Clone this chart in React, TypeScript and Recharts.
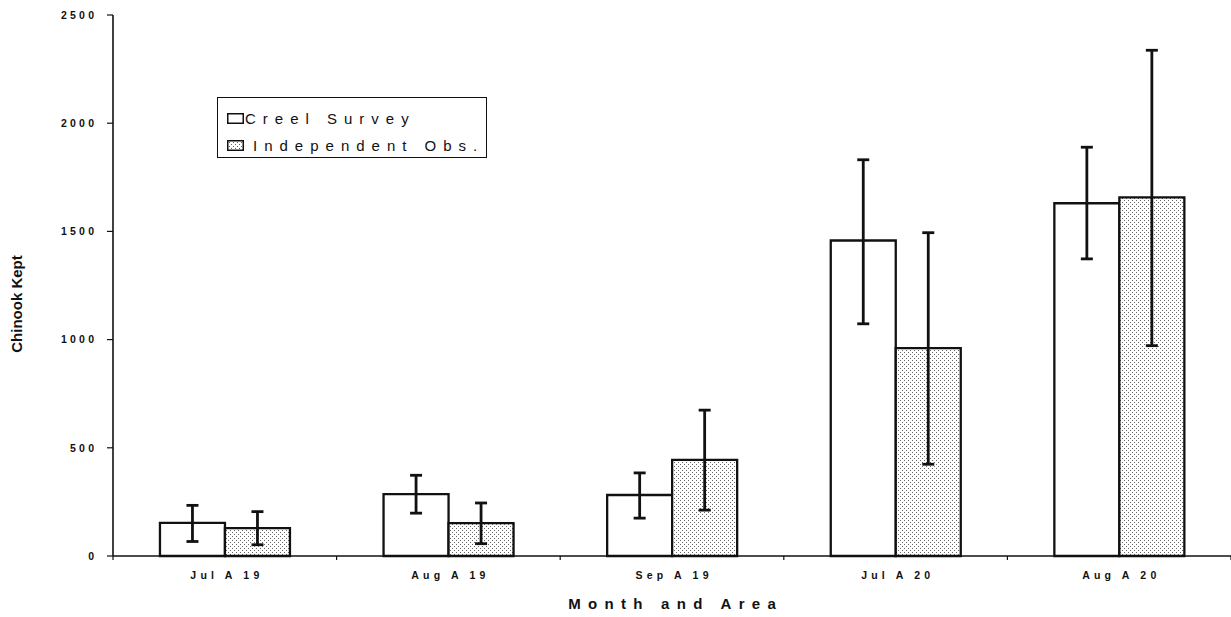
import React from 'react';
import { BarChart, Bar, XAxis, YAxis, ErrorBar, Legend, Label } from 'recharts';

// Chinook kept per month and area, creel survey vs independent observers
const categories = ['Jul A 19', 'Aug A 19', 'Sep A 19', 'Jul A 20', 'Aug A 20'];
const creelKept = [153, 286, 282, 1458, 1630];
const creelLow = [67, 198, 175, 1073, 1373];
const creelHigh = [234, 373, 384, 1831, 1889];
const indepKept = [129, 152, 444, 961, 1657];
const indepLow = [52, 57, 212, 424, 972];
const indepHigh = [205, 245, 674, 1494, 2337];
const yTicks = [0, 500, 1000, 1500, 2000, 2500];

const seriesNames = ['Creel Survey', 'Independent Obs.'];

const rows = categories.map((category, i) => ({
  category,
  creel: creelKept[i],
  creelErr: [creelKept[i] - creelLow[i], creelHigh[i] - creelKept[i]],
  indep: indepKept[i],
  indepErr: [indepKept[i] - indepLow[i], indepHigh[i] - indepKept[i]],
}));

const FONT = '"Liberation Sans", Arial, Helvetica, sans-serif';
const INK = '#111';

const XTick = (props: any) => {
  const { x, y, payload, index, visibleTicksCount, width } = props;
  const half = payload && payload.offset ? payload.offset : width / visibleTicksCount / 2;
  const spacing = 4.2;
  return (
    <g>
      <line x1={x - half} y1={y} x2={x - half} y2={y + 4} stroke={INK} strokeWidth={1.2} />
      {index === visibleTicksCount - 1 && (
        <line x1={x + half} y1={y} x2={x + half} y2={y + 4} stroke={INK} strokeWidth={1.2} />
      )}
      <text
        x={x + spacing / 2}
        y={y + 23}
        textAnchor="middle"
        fontFamily={FONT}
        fontWeight="bold"
        fontSize={10.5}
        fill={INK}
        style={{ letterSpacing: `${spacing}px` }}
      >
        {payload.value}
      </text>
    </g>
  );
};

const YTick = (props: any) => {
  const { x, y, payload } = props;
  const spacing = 3.2;
  return (
    <text
      x={x - 13 + spacing}
      y={y}
      dy="0.36em"
      textAnchor="end"
      fontFamily={FONT}
      fontWeight="bold"
      fontSize={10.5}
      fill={INK}
      style={{ letterSpacing: `${spacing}px` }}
    >
      {payload.value}
    </text>
  );
};

const LegendBox = (props: any) => {
  const { payload } = props;
  return (
    <div
      style={{
        boxSizing: 'border-box',
        width: 270,
        height: 61,
        border: '1.3px solid #111',
        background: '#fff',
        padding: '7px 0 0 9px',
        fontFamily: FONT,
        fontSize: 15,
        letterSpacing: '7px',
        color: INK,
        lineHeight: '27px',
      }}
    >
      {(payload || []).map((item: any, i: number) => (
        <div key={i} style={{ display: 'flex', alignItems: 'center', height: 27, whiteSpace: 'nowrap' }}>
          <svg width={17} height={11} style={{ flex: 'none' }}>
            <rect
              x={0.75}
              y={0.75}
              width={15.5}
              height={9.5}
              fill={i === 0 ? '#fff' : 'url(#stipple)'}
              stroke={INK}
              strokeWidth={1.5}
            />
          </svg>
          <span style={{ marginLeft: i === 0 ? 1 : 9 }}>{item.value}</span>
        </div>
      ))}
    </div>
  );
};

export default function App() {
  return (
    <div style={{ position: 'absolute', left: 0, top: 0, width: 1231, height: 617, background: '#fff' }}>
      <BarChart
        width={1231}
        height={617}
        data={rows}
        margin={{ top: 15, right: 0, bottom: 0, left: 0 }}
        barCategoryGap="21%"
        barGap={0}
      >
        <defs>
          <pattern id="stipple" width={4} height={4} patternUnits="userSpaceOnUse">
            <rect width={4} height={4} fill="#fff" />
            <rect x={0} y={0} width={1} height={1} fill="#666" />
            <rect x={2} y={2} width={1} height={1} fill="#666" />
          </pattern>
        </defs>
        <XAxis
          dataKey="category"
          height={61}
          interval={0}
          tickSize={0}
          tickMargin={0}
          tickLine={false}
          axisLine={{ stroke: INK, strokeWidth: 1.6 }}
          tick={<XTick />}
        >
          <Label
            content={(p: any) => {
              const vb = p.viewBox;
              const sp = 7.3;
              return (
                <text
                  x={vb.x + vb.width / 2 + sp / 2}
                  y={609}
                  textAnchor="middle"
                  fontFamily={FONT}
                  fontWeight="bold"
                  fontSize={15}
                  fill={INK}
                  style={{ letterSpacing: `${sp}px` }}
                >
                  Month and Area
                </text>
              );
            }}
          />
        </XAxis>
        <YAxis
          width={113}
          domain={[0, 2500]}
          ticks={yTicks}
          interval={0}
          tickSize={6}
          tickMargin={0}
          axisLine={{ stroke: INK, strokeWidth: 1.6 }}
          tickLine={{ stroke: INK, strokeWidth: 1.2 }}
          tick={<YTick />}
        >
          <Label
            content={() => (
              <text
                x={22}
                y={304}
                transform="rotate(-90 22 304)"
                textAnchor="middle"
                fontFamily={FONT}
                fontWeight="bold"
                fontSize={15}
                fill={INK}
              >
                Chinook Kept
              </text>
            )}
          />
        </YAxis>
        <Legend
          layout="horizontal"
          verticalAlign="middle"
          align="center"
          wrapperStyle={{ left: 217, top: 97, width: 270, height: 61 }}
          content={<LegendBox />}
        />
        <Bar dataKey="creel" name={seriesNames[0]} fill="#fff" stroke={INK} strokeWidth={2.3} isAnimationActive={false}>
          <ErrorBar dataKey="creelErr" direction="y" width={6} stroke={INK} strokeWidth={2.8} isAnimationActive={false} />
        </Bar>
        <Bar dataKey="indep" name={seriesNames[1]} fill="url(#stipple)" stroke={INK} strokeWidth={2.3} isAnimationActive={false}>
          <ErrorBar dataKey="indepErr" direction="y" width={6} stroke={INK} strokeWidth={2.8} isAnimationActive={false} />
        </Bar>
      </BarChart>
    </div>
  );
}
